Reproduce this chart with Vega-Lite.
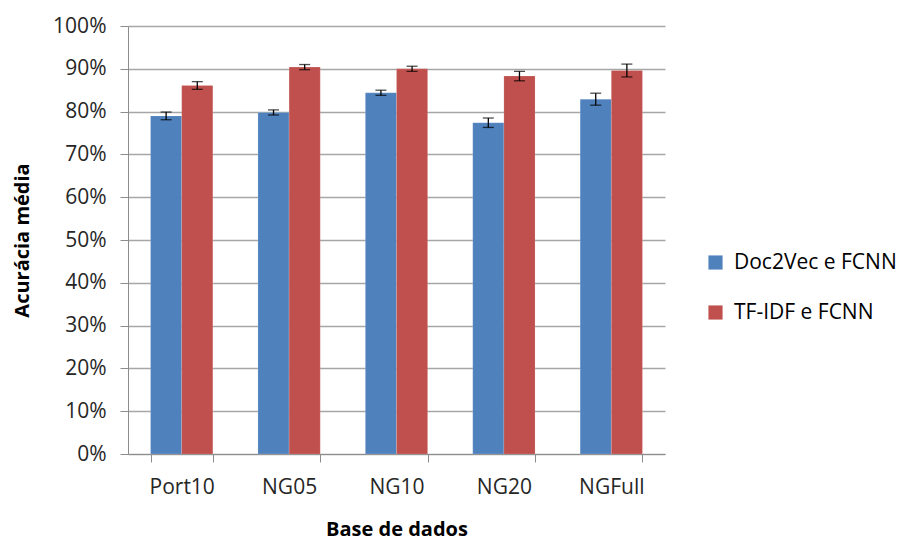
{
  "$schema": "https://vega.github.io/schema/vega-lite/v6.json",
  "width": 537,
  "height": 428,
  "autosize": "none",
  "padding": {"left": 128, "top": 26, "right": 246, "bottom": 87},
  "background": "white",
  "config": {"view": {"stroke": null}, "font": "Open Sans"},
  "data": {"values": [
    {"base": "Port10", "metodo": "Doc2Vec e FCNN", "acc": 0.790, "lo": 0.781, "hi": 0.799},
    {"base": "Port10", "metodo": "TF-IDF e FCNN", "acc": 0.861, "lo": 0.852, "hi": 0.870},
    {"base": "NG05", "metodo": "Doc2Vec e FCNN", "acc": 0.798, "lo": 0.792, "hi": 0.804},
    {"base": "NG05", "metodo": "TF-IDF e FCNN", "acc": 0.904, "lo": 0.898, "hi": 0.910},
    {"base": "NG10", "metodo": "Doc2Vec e FCNN", "acc": 0.844, "lo": 0.838, "hi": 0.850},
    {"base": "NG10", "metodo": "TF-IDF e FCNN", "acc": 0.900, "lo": 0.894, "hi": 0.906},
    {"base": "NG20", "metodo": "Doc2Vec e FCNN", "acc": 0.774, "lo": 0.763, "hi": 0.785},
    {"base": "NG20", "metodo": "TF-IDF e FCNN", "acc": 0.883, "lo": 0.872, "hi": 0.894},
    {"base": "NGFull", "metodo": "Doc2Vec e FCNN", "acc": 0.829, "lo": 0.815, "hi": 0.843},
    {"base": "NGFull", "metodo": "TF-IDF e FCNN", "acc": 0.896, "lo": 0.881, "hi": 0.911}
  ]},
  "encoding": {
    "x": {
      "field": "base", "type": "nominal", "sort": ["Port10", "NG05", "NG10", "NG20", "NGFull"],
      "scale": {"paddingInner": 0.42, "paddingOuter": 0.21},
      "axis": {"title": "Base de dados", "labelAngle": 0, "tickBand": "extent", "domainColor": "#8c8c8c", "tickColor": "#8c8c8c", "tickSize": 8, "labelFontSize": 21, "labelColor": "#262626", "labelPadding": 14, "titleFontSize": 20, "titleFontWeight": "bold", "titleColor": "#000000", "titlePadding": 22, "grid": false}
    },
    "xOffset": {"field": "metodo", "type": "nominal", "sort": ["Doc2Vec e FCNN", "TF-IDF e FCNN"], "scale": {"paddingInner": 0, "paddingOuter": 0}}
  },
  "layer": [
    {
      "mark": {"type": "bar", "stroke": "#ffffff", "strokeOpacity": 0.3, "strokeWidth": 0.5},
      "encoding": {
        "y": {"field": "acc", "type": "quantitative", "scale": {"domain": [0, 1]},
          "axis": {"title": "Acurácia média", "format": ".0%", "values": [0,0.1,0.2,0.3,0.4,0.5,0.6,0.7,0.8,0.9,1], "labelOverlap": false, "gridColor": "#a6a6a6", "gridWidth": 1.5, "domainColor": "#8c8c8c", "tickColor": "#8c8c8c", "tickSize": 8, "labelFontSize": 21, "labelColor": "#262626", "labelPadding": 14, "titleFontSize": 20, "titleFontWeight": "bold", "titleColor": "#000000", "titlePadding": 20}},
        "color": {"field": "metodo", "type": "nominal", "sort": ["Doc2Vec e FCNN", "TF-IDF e FCNN"],
          "scale": {"range": ["#4F81BD", "#C0504D"]},
          "legend": {"title": null, "orient": "none", "legendX": 577, "legendY": 226, "symbolType": "square", "symbolSize": 200, "symbolStrokeWidth": 0, "labelFontSize": 21, "labelLimit": 400, "labelColor": "#000000", "rowPadding": 28, "labelOffset": 8, "symbolOpacity": 1}}
      }
    },
    {
      "mark": {"type": "rule", "color": "#000000", "strokeWidth": 1.3},
      "encoding": {"y": {"field": "lo", "type": "quantitative"}, "y2": {"field": "hi"}}
    },
    {
      "mark": {"type": "tick", "color": "#000000", "size": 11, "thickness": 1.3, "orient": "horizontal"},
      "encoding": {"y": {"field": "lo", "type": "quantitative"}}
    },
    {
      "mark": {"type": "tick", "color": "#000000", "size": 11, "thickness": 1.3, "orient": "horizontal"},
      "encoding": {"y": {"field": "hi", "type": "quantitative"}}
    }
  ]
}
